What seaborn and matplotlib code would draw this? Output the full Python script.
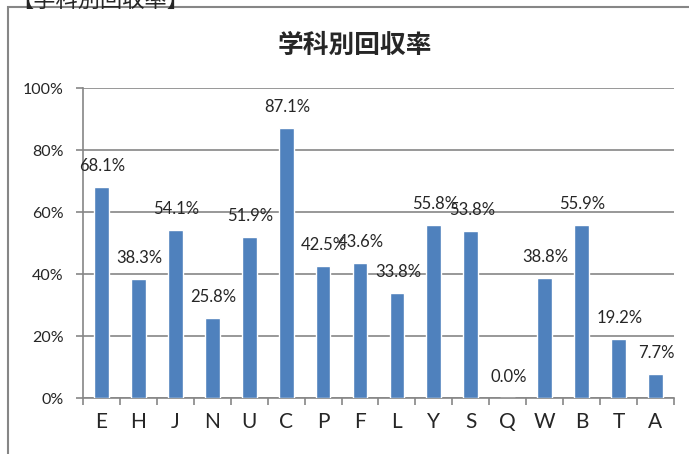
import seaborn as sns
import matplotlib.pyplot as plt
from matplotlib.patches import Rectangle
import pandas as pd

departments = ["E", "H", "J", "N", "U", "C", "P", "F", "L", "Y", "S", "Q", "W", "B", "T", "A"]
rates = [68.1, 38.3, 54.1, 25.8, 51.9, 87.1, 42.5, 43.6, 33.8, 55.8, 53.8, 0.0, 38.8, 55.9, 19.2, 7.7]
y_ticks = [0, 20, 40, 60, 80, 100]
y_tick_labels = ["0%", "20%", "40%", "60%", "80%", "100%"]
title = "学科別回収率"
header = "【学科別回収率】"

sns.set_style("white")
plt.rcParams['font.family'] = ['Lato', 'Noto Sans CJK JP', 'DejaVu Sans']

df = pd.DataFrame({"dept": departments, "rate": rates})

fig = plt.figure(figsize=(6.89, 4.54), dpi=100)
ax = fig.add_axes([0.1205, 0.1233, 0.8575, 0.6827])

sns.barplot(data=df, x="dept", y="rate", color="#4F81BD", saturation=1,
            width=0.4, ax=ax, zorder=3)

ax.set_ylim(0, 100)
ax.set_xlim(-0.5, len(departments) - 0.5)
ax.set_yticks(y_ticks)
ax.set_yticklabels(y_tick_labels, fontsize=11.5)
ax.tick_params(axis="y", length=5, width=1.2, color="#868686", pad=9, left=True)
ax.tick_params(axis="x", labelsize=15, length=0, pad=10)
ax.set_xticks(range(len(departments)), minor=False)
ax.set_xticks([i - 0.5 for i in range(len(departments) + 1)], minor=True)
ax.tick_params(axis="x", which="minor", length=5, width=1.2, color="#868686", bottom=True)
ax.set_xlabel("")
ax.set_ylabel("")

ax.grid(axis="y", color="#868686", linewidth=1.2, zorder=0)
for side in ["top", "right"]:
    ax.spines[side].set_visible(False)
for side in ["left", "bottom"]:
    ax.spines[side].set_color("#868686")
    ax.spines[side].set_linewidth(1.2)

# value labels above each bar
for i, v in enumerate(rates):
    ax.annotate(f"{v:.1f}%", (i, v), xytext=(1, 21), textcoords="offset pixels",
                ha="center", va="center", fontsize=12, zorder=4)

fig.text(0.515, 0.9, title, ha="center", va="center", fontsize=18.5, fontweight="bold",
         family=["Noto Sans CJK JP", "DejaVu Sans"])
fig.text(0.016, 1.0, header, ha="left", va="center", fontsize=16,
         family=["Noto Sans CJK JP", "DejaVu Sans"])

fig.patches.append(Rectangle((8 / 689, -0.1), 1.2, 1 - 7 / 454 + 0.1, transform=fig.transFigure,
                             fill=False, edgecolor="#868686", linewidth=1.5))

fig.savefig("out.png", dpi=100)
